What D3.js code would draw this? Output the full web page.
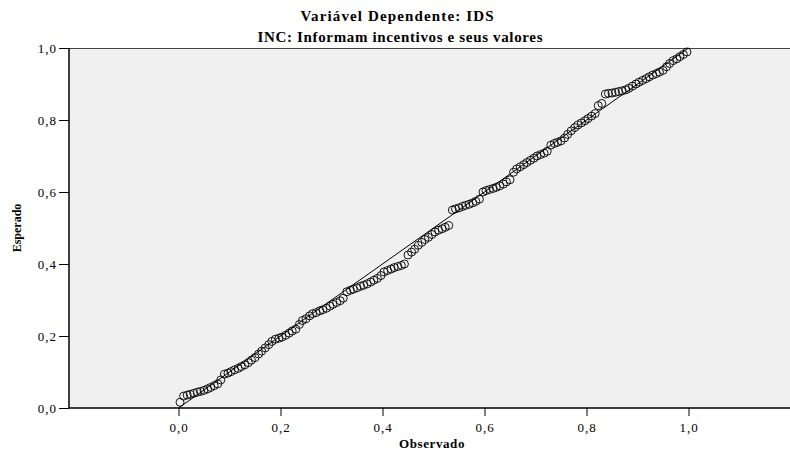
<!DOCTYPE html>
<html>
<head>
<meta charset="utf-8">
<script src="https://cdn.jsdelivr.net/npm/d3@7"></script>
<style>
  body { margin: 0; background: #fff; }
  svg { display: block; font-family: "Liberation Serif", "Times New Roman", serif; }
</style>
</head>
<body>
<script>
'use strict';

// Titles
const title1 = 'Variável Dependente: IDS';
const title2 = 'INC: Informam incentivos e seus valores';
const xLabel = 'Observado';
const yLabel = 'Esperado';

// Tick values
const xTicks = [0, 0.2, 0.4, 0.6, 0.8, 1.0];
const yTicks = [0, 0.2, 0.4, 0.6, 0.8, 1.0];

// Observed cumulative probability
const observed = [
  0.003, 0.010, 0.017, 0.023, 0.030, 0.037, 0.043, 0.050, 0.057, 0.063,
  0.070, 0.077, 0.083, 0.090, 0.097, 0.103, 0.110, 0.117, 0.123, 0.130,
  0.137, 0.143, 0.150, 0.157, 0.163, 0.170, 0.177, 0.183, 0.190, 0.197,
  0.203, 0.210, 0.217, 0.223, 0.230, 0.237, 0.243, 0.250, 0.257, 0.263,
  0.270, 0.277, 0.283, 0.290, 0.297, 0.303, 0.310, 0.317, 0.323, 0.330,
  0.337, 0.343, 0.350, 0.357, 0.363, 0.370, 0.377, 0.383, 0.390, 0.397,
  0.403, 0.410, 0.417, 0.423, 0.430, 0.437, 0.443, 0.450, 0.457, 0.463,
  0.470, 0.477, 0.483, 0.490, 0.497, 0.503, 0.510, 0.517, 0.523, 0.530,
  0.537, 0.543, 0.550, 0.557, 0.563, 0.570, 0.577, 0.583, 0.590, 0.597,
  0.603, 0.610, 0.617, 0.623, 0.630, 0.637, 0.643, 0.650, 0.657, 0.663,
  0.670, 0.677, 0.683, 0.690, 0.697, 0.703, 0.710, 0.717, 0.723, 0.730,
  0.737, 0.743, 0.750, 0.757, 0.763, 0.770, 0.777, 0.783, 0.790, 0.797,
  0.803, 0.810, 0.817, 0.823, 0.830, 0.837, 0.843, 0.850, 0.857, 0.863,
  0.870, 0.877, 0.883, 0.890, 0.897, 0.903, 0.910, 0.917, 0.923, 0.930,
  0.937, 0.943, 0.950, 0.957, 0.963, 0.970, 0.977, 0.983, 0.990, 0.997
];

// Expected cumulative probability
const expected = [
  0.016, 0.033, 0.036, 0.038, 0.041, 0.044, 0.046, 0.049, 0.053, 0.057,
  0.062, 0.067, 0.078, 0.094, 0.097, 0.101, 0.106, 0.110, 0.115, 0.120,
  0.126, 0.133, 0.140, 0.150, 0.158, 0.167, 0.176, 0.185, 0.191, 0.194,
  0.197, 0.202, 0.208, 0.214, 0.219, 0.232, 0.243, 0.248, 0.256, 0.262,
  0.265, 0.270, 0.273, 0.277, 0.283, 0.288, 0.293, 0.298, 0.305, 0.323,
  0.327, 0.330, 0.334, 0.338, 0.341, 0.345, 0.350, 0.355, 0.360, 0.368,
  0.378, 0.382, 0.386, 0.390, 0.393, 0.396, 0.400, 0.425, 0.433, 0.441,
  0.452, 0.460, 0.468, 0.474, 0.482, 0.489, 0.494, 0.498, 0.502, 0.507,
  0.550, 0.553, 0.556, 0.560, 0.563, 0.566, 0.570, 0.574, 0.580, 0.600,
  0.604, 0.607, 0.610, 0.613, 0.617, 0.622, 0.628, 0.634, 0.655, 0.664,
  0.670, 0.676, 0.682, 0.688, 0.694, 0.700, 0.704, 0.708, 0.713, 0.730,
  0.735, 0.738, 0.742, 0.750, 0.760, 0.770, 0.779, 0.786, 0.792, 0.798,
  0.804, 0.811, 0.818, 0.840, 0.846, 0.872, 0.874, 0.875, 0.877, 0.879,
  0.881, 0.884, 0.888, 0.894, 0.900, 0.905, 0.910, 0.915, 0.920, 0.925,
  0.929, 0.933, 0.938, 0.948, 0.957, 0.965, 0.970, 0.976, 0.982, 0.989
];

const points = observed.map((o, i) => ({ o, e: expected[i] }));

const width = 790;
const height = 450;
const plot = { left: 69, top: 48, right: 790, bottom: 408 };

const svg = d3.select('body').append('svg')
  .attr('width', width)
  .attr('height', height)
  .attr('viewBox', `0 0 ${width} ${height}`);

const x = d3.scaleLinear().domain([0, 1]).range([178.5, 688.5]);
const y = d3.scaleLinear().domain([0, 1]).range([plot.bottom, plot.top]);

const fmt = d => d3.format('.1f')(d).replace('.', ',');

// Plot background
svg.append('rect')
  .attr('x', plot.left)
  .attr('y', plot.top)
  .attr('width', plot.right - plot.left)
  .attr('height', plot.bottom - plot.top)
  .attr('fill', '#f0f0f0');

svg.append('line')
  .attr('x1', plot.left).attr('x2', plot.right)
  .attr('y1', plot.top + 0.5).attr('y2', plot.top + 0.5)
  .attr('stroke', '#444').attr('stroke-width', 1);

// Axes
const xAxis = svg.append('g')
  .attr('transform', `translate(0,${plot.bottom})`)
  .call(d3.axisBottom(x).tickValues(xTicks).tickFormat(fmt).tickSize(8).tickPadding(7));
xAxis.select('.domain').remove();
xAxis.append('line')
  .attr('x1', plot.left).attr('x2', plot.right)
  .attr('stroke', '#000').attr('stroke-width', 1.5);

const yAxis = svg.append('g')
  .attr('transform', `translate(${plot.left},0)`)
  .call(d3.axisLeft(y).tickValues(yTicks).tickFormat(fmt).tickSize(10).tickPadding(2));
yAxis.select('.domain').remove();
yAxis.append('line')
  .attr('y1', plot.top).attr('y2', plot.bottom)
  .attr('stroke', '#000').attr('stroke-width', 1.5);

svg.selectAll('.tick text')
  .attr('font-family', '"Liberation Serif", serif')
  .attr('font-size', 13)
  .attr('letter-spacing', 1)
  .attr('fill', '#000');
svg.selectAll('.tick line').attr('stroke', '#000');

// Reference line
svg.append('line')
  .attr('x1', x(0)).attr('y1', y(0))
  .attr('x2', x(1)).attr('y2', y(1))
  .attr('stroke', '#000')
  .attr('stroke-width', 1);

// Points
svg.append('g').selectAll('circle')
  .data(points)
  .enter().append('circle')
  .attr('cx', d => x(d.o))
  .attr('cy', d => y(d.e))
  .attr('r', 4)
  .attr('fill', 'none')
  .attr('stroke', '#000')
  .attr('stroke-width', 0.9);

// Titles
svg.append('text')
  .attr('x', 397).attr('y', 21)
  .attr('text-anchor', 'middle')
  .attr('font-size', 15).attr('font-weight', 'bold')
  .attr('textLength', 193).attr('lengthAdjust', 'spacing')
  .text(title1);

svg.append('text')
  .attr('x', 400).attr('y', 42)
  .attr('text-anchor', 'middle')
  .attr('font-size', 15).attr('font-weight', 'bold')
  .attr('textLength', 285).attr('lengthAdjust', 'spacing')
  .text(title2);

// Axis titles
svg.append('text')
  .attr('x', 432).attr('y', 448)
  .attr('text-anchor', 'middle')
  .attr('font-size', 13).attr('font-weight', 'bold')
  .attr('letter-spacing', 0.6)
  .text(xLabel);

svg.append('text')
  .attr('transform', `translate(21,${(plot.top + plot.bottom) / 2}) rotate(-90)`)
  .attr('text-anchor', 'middle')
  .attr('font-size', 12).attr('font-weight', 'bold')
  .text(yLabel);
</script>
</body>
</html>
